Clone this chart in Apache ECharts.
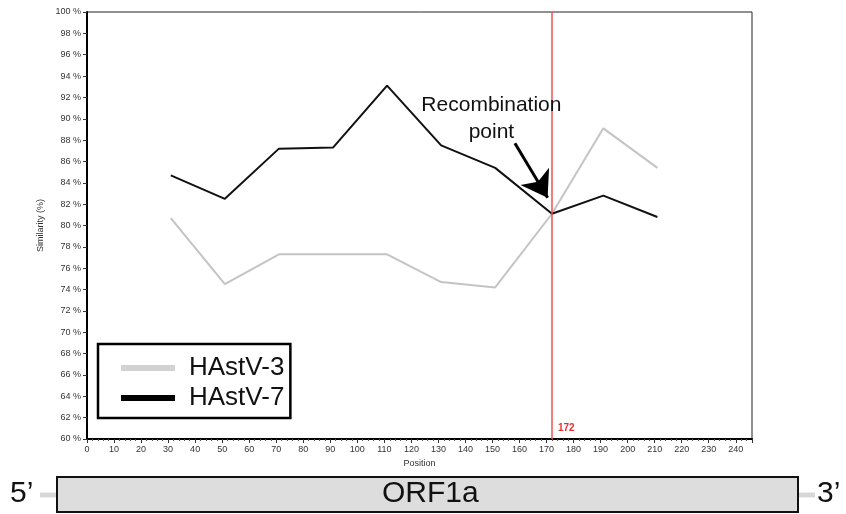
<!DOCTYPE html>
<html>
<head>
<meta charset="utf-8">
<script src="https://cdn.jsdelivr.net/npm/echarts@6/dist/echarts.min.js"></script>
<style>
html,body{margin:0;padding:0;background:#fff;}
#c{width:846px;height:514px;}
</style>
</head>
<body>
<div id="c"></div>
<script>
var positions = [31, 51, 71, 91, 111, 131, 151, 172, 191, 211];
var hastv3 = [80.7, 74.5, 77.3, 77.3, 77.3, 74.7, 74.2, 81.1, 89.1, 85.4];
var hastv7 = [84.7, 82.5, 87.2, 87.3, 93.1, 87.5, 85.4, 81.1, 82.8, 80.8];
var recombinationPos = 172;
var seriesNames = ['HAstV-3', 'HAstV-7'];

function pairs(vals){ return positions.map(function(p,i){ return [p, vals[i]]; }); }

var FONT = '"Liberation Sans", Arial, sans-serif';
var chart = echarts.init(document.getElementById('c'));
chart.setOption({
  animation: false,
  backgroundColor: '#fff',
  grid: {left: 87, right: 94, top: 12, bottom: 75, show: true, borderColor: '#222', borderWidth: 1},
  legend: {
    orient: 'vertical', left: 98, top: 344,
    data: seriesNames,
    icon: 'rect', itemWidth: 54, itemHeight: 6, itemGap: 2,
    padding: [10, 6, 6, 23],
    borderColor: '#000', borderWidth: 2.5, borderRadius: 0,
    backgroundColor: '#fff',
    textStyle: {fontFamily: FONT, fontSize: 26, color: '#111', lineHeight: 28, padding: [0,0,0,9]}
  },
  xAxis: {
    type: 'value', min: 0, max: 246, interval: 10,
    name: 'Position', nameLocation: 'middle', nameGap: 19,
    nameTextStyle: {fontFamily: FONT, fontSize: 9, color: '#333'},
    axisLine: {lineStyle: {color: '#000', width: 2}},
    axisTick: {length: 4, lineStyle: {color: '#333'}},
    minorTick: {show: true, splitNumber: 5, length: 2, lineStyle: {color: '#555'}},
    axisLabel: {fontFamily: FONT, fontSize: 9, color: '#333', margin: 6, showMaxLabel: false},
    splitLine: {show: false}
  },
  yAxis: {
    type: 'value', min: 60, max: 100, interval: 2,
    name: 'Similarity (%)', nameLocation: 'middle', nameGap: 38, nameRotate: 90,
    nameTextStyle: {fontFamily: FONT, fontSize: 9, color: '#333'},
    axisLine: {show: true, lineStyle: {color: '#000', width: 2}},
    axisTick: {show: true, length: 4, lineStyle: {color: '#333'}},
    axisLabel: {fontFamily: FONT, fontSize: 9, color: '#333', margin: 6, formatter: '{value} %'},
    splitLine: {show: false}
  },
  series: [
    {
      name: seriesNames[0], type: 'line', data: pairs(hastv3),
      symbol: 'none', color: '#d2d2d2',
      lineStyle: {color: '#c4c4c4', width: 2}, z: 2
    },
    {
      name: seriesNames[1], type: 'line', data: pairs(hastv7),
      symbol: 'none', color: '#000',
      lineStyle: {color: '#111', width: 2}, z: 3,
      markLine: {
        silent: true, animation: false,
        data: [
          [{coord: [recombinationPos, 60], symbol: 'none', lineStyle: {color: '#f05050', width: 1.5, type: 'solid'}, label: {show: false}},
           {coord: [recombinationPos, 100], symbol: 'none'}],
          [{coord: [158.3, 87.7], symbol: 'none', lineStyle: {color: '#000', width: 3, type: 'solid'}, label: {show: false}},
           {coord: [170.4, 82.6], symbol: 'arrow', symbolSize: 25}]
        ]
      },
      markPoint: {
        silent: true, animation: false,
        symbol: 'circle', symbolSize: 0,
        data: [
          {coord: [recombinationPos, 61.0], label: {show: true, formatter: String(recombinationPos), position: 'right', distance: 6, color: '#e83030', fontWeight: 'bold', fontSize: 10, fontFamily: FONT}},
          {coord: [149.6, 90.0], label: {show: true, formatter: 'Recombination\npoint', position: 'inside', align: 'center', color: '#111', fontSize: 21, lineHeight: 27, fontFamily: FONT}}
        ]
      }
    }
  ],
  graphic: [
    {type: 'line', shape: {x1: 40, y1: 495, x2: 58, y2: 495}, style: {stroke: '#d8d8d8', lineWidth: 5}},
    {type: 'line', shape: {x1: 797, y1: 495, x2: 815, y2: 495}, style: {stroke: '#d8d8d8', lineWidth: 5}},
    {type: 'rect', shape: {x: 57, y: 477, width: 741, height: 35}, style: {fill: '#dddddd', stroke: '#111', lineWidth: 2}},
    {type: 'text', left: 427 - 45, top: 479, style: {text: 'ORF1a', font: '30px "Liberation Sans", Arial, sans-serif', fill: '#111'}},
    {type: 'text', left: 10, top: 479, style: {text: '5\u2019', font: '30px "Liberation Sans", Arial, sans-serif', fill: '#111'}},
    {type: 'text', left: 817, top: 479, style: {text: '3\u2019', font: '30px "Liberation Sans", Arial, sans-serif', fill: '#111'}}
  ]
});
</script>
</body>
</html>
